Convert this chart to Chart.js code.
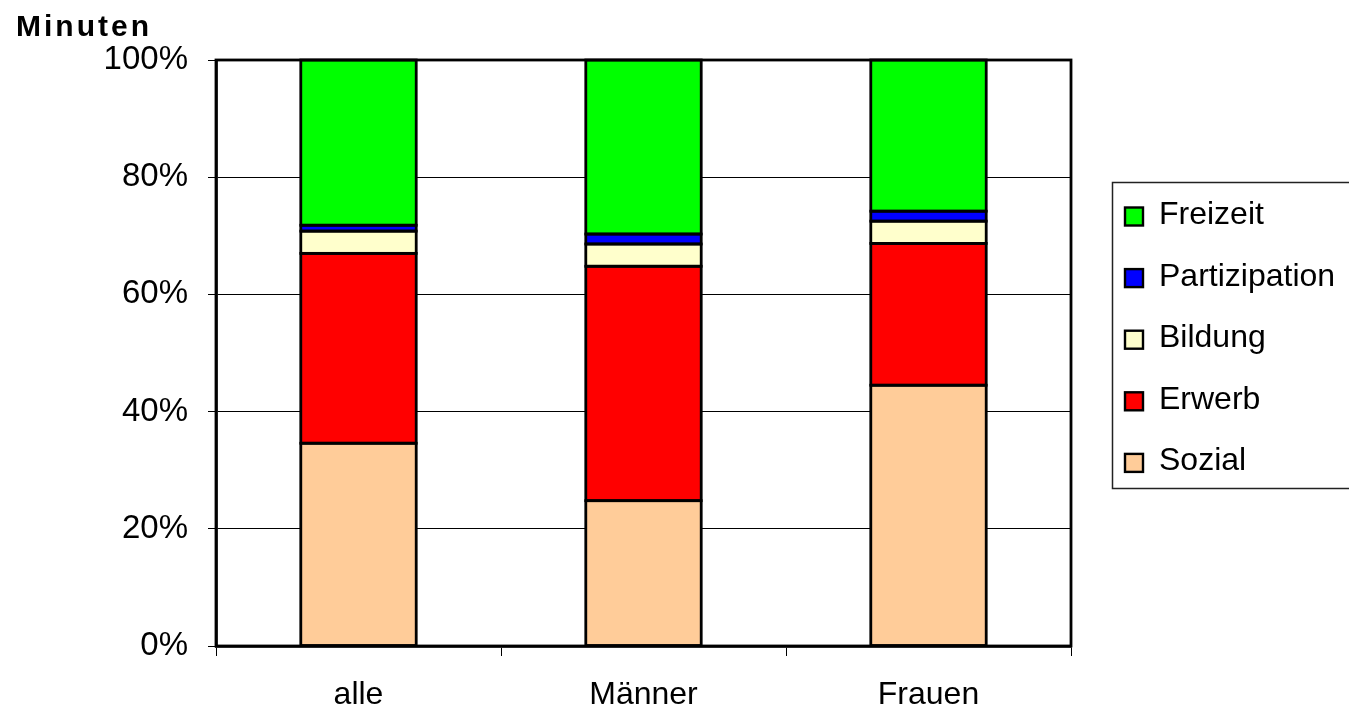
<!DOCTYPE html>
<html lang="de">
<head>
<meta charset="utf-8">
<title>Minuten – Zeitverwendung</title>
<script src="https://cdn.jsdelivr.net/npm/chart.js@4/dist/chart.umd.min.js"></script>
<style>
  html, body { margin: 0; padding: 0; background: #ffffff; }
  #wrap { width: 1349px; height: 711px; position: relative; }
</style>
</head>
<body>
<div id="wrap"><canvas id="c" width="1349" height="711"></canvas></div>
<script>
// Anteile der Minuten je Tätigkeitsbereich (Prozent)
const categories = ['alle', 'Männer', 'Frauen'];
const sozial        = [34.6, 24.8, 44.5];
const erwerb        = [32.4, 40.0, 24.2];
const bildung       = [3.8, 3.8, 3.8];
const partizipation = [1.0, 1.7, 1.7];
const freizeit      = [28.2, 29.7, 25.8];
const yTicks = [0, 20, 40, 60, 80, 100];

const FONT = "'Liberation Sans', Arial, Helvetica, sans-serif";

const seriesDefs = [
  { label: 'Sozial',        data: sozial,        color: '#FFCC99' },
  { label: 'Erwerb',        data: erwerb,        color: '#FF0000' },
  { label: 'Bildung',       data: bildung,       color: '#FFFFCC' },
  { label: 'Partizipation', data: partizipation, color: '#0000FF' },
  { label: 'Freizeit',      data: freizeit,      color: '#00FF00' }
];

// Black outlines around every bar segment, stroked on the segment edges
const outlinePlugin = {
  id: 'segmentOutline',
  afterDatasetsDraw(chart) {
    const ctx = chart.ctx;
    ctx.save();
    ctx.strokeStyle = '#000000';
    ctx.lineWidth = 2.8;
    chart.data.datasets.forEach((ds, i) => {
      const meta = chart.getDatasetMeta(i);
      meta.data.forEach(el => {
        const p = el.getProps(['x', 'y', 'base', 'width'], true);
        const left = p.x - p.width / 2;
        const top = Math.min(p.y, p.base);
        const h = Math.abs(p.base - p.y);
        ctx.strokeRect(left, top, p.width, h);
      });
    });
    ctx.restore();
  }
};

// Plot frame, axis title and boxed legend
const decorPlugin = {
  id: 'decor',
  afterDraw(chart) {
    const ctx = chart.ctx;
    const a = chart.chartArea;
    ctx.save();
    // frame around the plot area
    ctx.strokeStyle = '#000000';
    ctx.lineWidth = 2.8;
    ctx.strokeRect(a.left, a.top, a.right - a.left, a.bottom - a.top);

    // axis title
    ctx.fillStyle = '#000000';
    ctx.font = 'bold 30px ' + FONT;
    ctx.textAlign = 'left';
    ctx.textBaseline = 'alphabetic';
    if ('letterSpacing' in ctx) ctx.letterSpacing = '3px';
    ctx.fillText('Minuten', 16, 36);
    if ('letterSpacing' in ctx) ctx.letterSpacing = '0px';

    // legend box
    ctx.strokeStyle = '#222222';
    ctx.lineWidth = 1.5;
    ctx.strokeRect(1112.5, 182.5, 260, 306);

    const items = chart.data.datasets.slice().reverse();
    ctx.font = '32px ' + FONT;
    items.forEach((ds, i) => {
      const cy = 216.5 + i * 61.6;
      ctx.fillStyle = ds.backgroundColor;
      ctx.fillRect(1125, cy - 9, 18, 18);
      ctx.strokeStyle = '#000000';
      ctx.lineWidth = 2.4;
      ctx.strokeRect(1125, cy - 9, 18, 18);
      ctx.fillStyle = '#000000';
      ctx.fillText(ds.label, 1159, cy + 7.5);
    });
    ctx.restore();
  }
};

new Chart(document.getElementById('c'), {
  type: 'bar',
  data: {
    labels: categories,
    datasets: seriesDefs.map(s => ({
      label: s.label,
      data: s.data,
      backgroundColor: s.color,
      borderWidth: 0,
      categoryPercentage: 1.0,
      barPercentage: 0.405
    }))
  },
  options: {
    responsive: false,
    animation: false,
    events: [],
    layout: { padding: { left: 0, top: 60, right: 278, bottom: 0 } },
    plugins: {
      legend: { display: false },
      tooltip: { enabled: false },
      title: { display: false }
    },
    scales: {
      x: {
        stacked: true,
        offset: true,
        afterFit(scale) { scale.height = 65; },
        grid: {
          offset: true,
          drawOnChartArea: false,
          drawTicks: true,
          tickLength: 10,
          color: '#000000',
          lineWidth: 1
        },
        border: { display: true, color: '#000000', width: 2.8 },
        ticks: {
          color: '#000000',
          font: { family: FONT, size: 32 },
          padding: 20,
          maxRotation: 0
        }
      },
      y: {
        stacked: true,
        min: 0,
        max: 100,
        afterFit(scale) { scale.width = 216; },
        afterBuildTicks(scale) { scale.ticks = yTicks.map(v => ({ value: v })); },
        grid: {
          color: '#000000',
          lineWidth: 1,
          drawTicks: true,
          tickLength: 8
        },
        border: { display: true, color: '#000000', width: 2.8 },
        ticks: {
          color: '#000000',
          font: { family: FONT, size: 33 },
          padding: 20,
          callback: v => v + '%'
        }
      }
    }
  },
  plugins: [outlinePlugin, decorPlugin]
});
</script>
</body>
</html>
